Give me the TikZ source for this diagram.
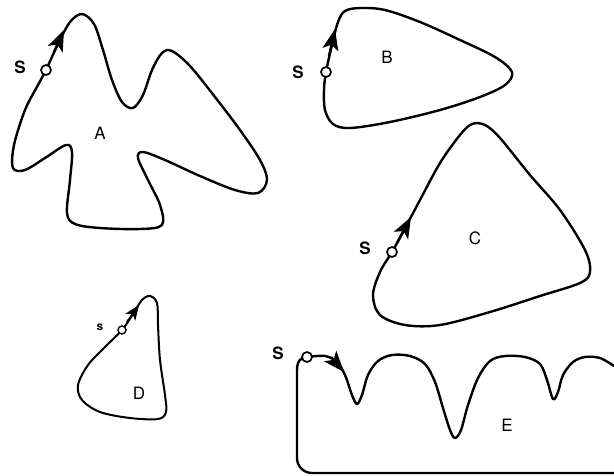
\documentclass[tikz,border=0pt]{standalone}
\usepackage{fontspec}
\setsansfont{TeX Gyre Heros}
\usetikzlibrary{arrows.meta}
\tikzset{
  curve/.style={line width=2.4pt, line join=round, line cap=round},
  arrowseg/.style={line width=2.4pt, -{Stealth[length=21pt,width=16pt,inset=5pt]}},
  arrowsegsmall/.style={line width=2pt, -{Stealth[length=15pt,width=12pt,inset=4pt]}},
  startpt/.style={circle, draw, fill=white, line width=1.7pt, inner sep=0pt, minimum size=10pt},
  slabel/.style={font=\sffamily\bfseries\fontsize{17}{17}\selectfont},
  shlabel/.style={font=\sffamily\fontsize{17}{17}\selectfont}
}
\begin{document}
\begin{tikzpicture}[x=1pt,y=-1pt]
\useasboundingbox (0,0) rectangle (614,475);
% Shape A
\draw[curve] plot[smooth cycle, tension=0.55] coordinates {
 (46,70) (58,44) (70,22) (82,14) (94,24) (103,50) (112,80) (122,102) (133,108)
 (143,95) (152,70) (162,53) (172,51) (190,66) (215,97) (240,130) (260,160)
 (267,180) (258,193) (235,190) (200,176) (165,160) (143,152) (138,158)
 (148,180) (160,205) (162,225) (140,229) (100,228) (75,224) (67,213) (70,180)
 (72,152) (66,145) (45,158) (25,170) (13,168) (14,145) (25,110) (38,85)};
\coordinate (a1) at (54,52);
\coordinate (a2) at (64,30);
\draw[arrowseg] (a1) -- (a2);
\node[startpt] (sa) at (46,70) {};
\node[slabel] (la) at (20,67) {S};
\node[shlabel] (a) at (100,133) {A};
% Shape B
\draw[curve] plot[smooth cycle, tension=0.55] coordinates {
 (326,72) (332,45) (338,22) (345,11) (360,8) (385,10) (420,22) (460,40)
 (495,57) (512,72) (505,85) (480,97) (440,110) (390,122) (350,128) (333,124)
 (325,110) (324,90)};
\coordinate (b1) at (329,56);
\coordinate (b2) at (335,29);
\draw[arrowseg] (b1) -- (b2);
\node[startpt] (sb) at (326,72) {};
\node[slabel] (lb) at (298,72) {S};
\node[shlabel] (b) at (387,57) {B};
% Shape C
\draw[curve] plot[smooth cycle, tension=0.55] coordinates {
 (392,252) (403,232) (420,200) (440,163) (460,135) (472,124) (485,125)
 (500,138) (530,175) (560,210) (585,250) (590,272) (580,283) (540,296)
 (490,312) (440,325) (405,325) (380,315) (373,295) (380,272)};
\coordinate (c1) at (397,243);
\coordinate (c2) at (411,217);
\draw[arrowseg] (c1) -- (c2);
\node[startpt] (sc) at (392,252) {};
\node[slabel] (lc) at (365,248) {S};
\node[shlabel] (c) at (475,238) {C};
% Shape D
\draw[curve, line width=2pt] plot[smooth cycle, tension=0.55] coordinates {
 (122,330) (133,314) (142,300) (150,296) (157,303) (158,325) (160,360)
 (165,395) (166,412) (158,419) (130,418) (100,412) (82,400) (78,385)
 (88,365) (105,347)};
\coordinate (d1) at (127,322);
\coordinate (d2) at (139,305);
\draw[arrowsegsmall] (d1) -- (d2);
\node[startpt, minimum size=8pt, line width=1.4pt] (sd) at (122,330) {};
\node[font=\sffamily\bfseries\fontsize{12}{12}\selectfont] (ld) at (100,327) {s};
\node[shlabel] (d) at (139,393) {D};
% Shape E
\coordinate (eend) at (614,473);
\draw[curve] (eend) -- (312,473) to[out=180,in=-90] (297,458) -- (297,370)
  to[out=90,in=200] (303,358);
\draw[curve] plot[smooth, tension=0.55] coordinates {
 (307,357) (325,356) (337,362) (345,375) (352,395) (357,404) (362,395)
 (368,375) (378,361) (392,355) (410,356) (425,364) (435,382) (443,408)
 (450,430) (455,438) (461,430) (468,405) (478,378) (490,361) (505,356)
 (525,357) (540,364) (547,380) (553,399) (558,392) (563,375) (573,362)
 (585,357) (600,358) (614,366)};
\coordinate (e1) at (331,357);
\coordinate (e2) at (344,372);
\draw[arrowseg] (e1) -- (e2);
\node[startpt] (se) at (307,357) {};
\node[slabel] (le) at (278,353) {S};
\node[shlabel] (e) at (507,425) {E};
\end{tikzpicture}
\end{document}
